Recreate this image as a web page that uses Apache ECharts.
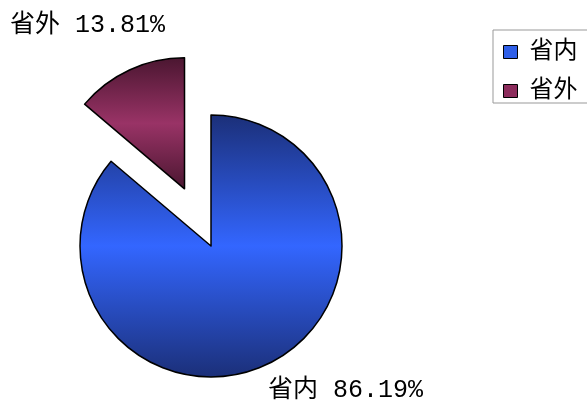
<!DOCTYPE html>
<html>
<head>
<meta charset="utf-8">
<script src="https://cdn.jsdelivr.net/npm/echarts@6/dist/echarts.min.js"></script>
<style>
  html, body { margin: 0; padding: 0; background: #fff; }
  #chart { width: 587px; height: 403px; }
</style>
</head>
<body>
<div id="chart"></div>
<script>
// 数据
const categories = ["省内", "省外"];
const shares = [86.19, 13.81];
const darkColors = ["#1b2f78", "#4a1630"];
const brightColors = ["#3366ff", "#993366"];
const legendColors = ["#2f5fe8", "#8c2c5c"];

const fontFam = '"Liberation Mono", "Noto Sans CJK SC", monospace';

const labelText = (i) => categories[i] + " " + shares[i].toFixed(2) + "%";

const chart = echarts.init(document.getElementById("chart"));

const pieData = categories.map((name, i) => ({
  name: name,
  value: shares[i],
  selected: i === 1,
  itemStyle: {
    color: new echarts.graphic.LinearGradient(0, 0, 0, 1, [
      { offset: 0, color: darkColors[i] },
      { offset: 0.5, color: brightColors[i] },
      { offset: 1, color: darkColors[i] },
    ]),
  },
}));

const labelStyle = {
  fontFamily: fontFam,
  fontSize: 25,
  lineHeight: 25,
  fontWeight: "normal",
  color: "#000",
};

chart.setOption({
  animation: false,
  // 扇区标签
  title: [
    { text: labelText(1), left: 10, top: 13, padding: 0, textStyle: labelStyle },
    { text: labelText(0), left: 268, top: 378, padding: 0, textStyle: labelStyle },
  ],
  legend: {
    orient: "vertical",
    left: 493,
    top: 30,
    padding: [10, 30, 0, 10],
    borderColor: "#999",
    borderWidth: 1,
    itemWidth: 14,
    itemHeight: 13,
    itemGap: 15,
    icon: "rect",
    selectedMode: false,
    textStyle: {
      fontFamily: fontFam,
      fontSize: 24,
      lineHeight: 24,
      color: "#000",
      padding: [0, 0, 0, 7],
    },
    data: categories.map((name, i) => ({
      name: name,
      itemStyle: { color: legendColors[i], borderColor: "#000", borderWidth: 1 },
    })),
  },
  series: [
    {
      type: "pie",
      center: [211, 246],
      radius: 131,
      startAngle: 90,
      clockwise: true,
      selectedMode: "single",
      selectedOffset: 63,
      emphasis: { disabled: true },
      itemStyle: { borderColor: "#000", borderWidth: 1.5 },
      label: { show: false },
      labelLine: { show: false },
      data: pieData,
    },
  ],
});
</script>
</body>
</html>
